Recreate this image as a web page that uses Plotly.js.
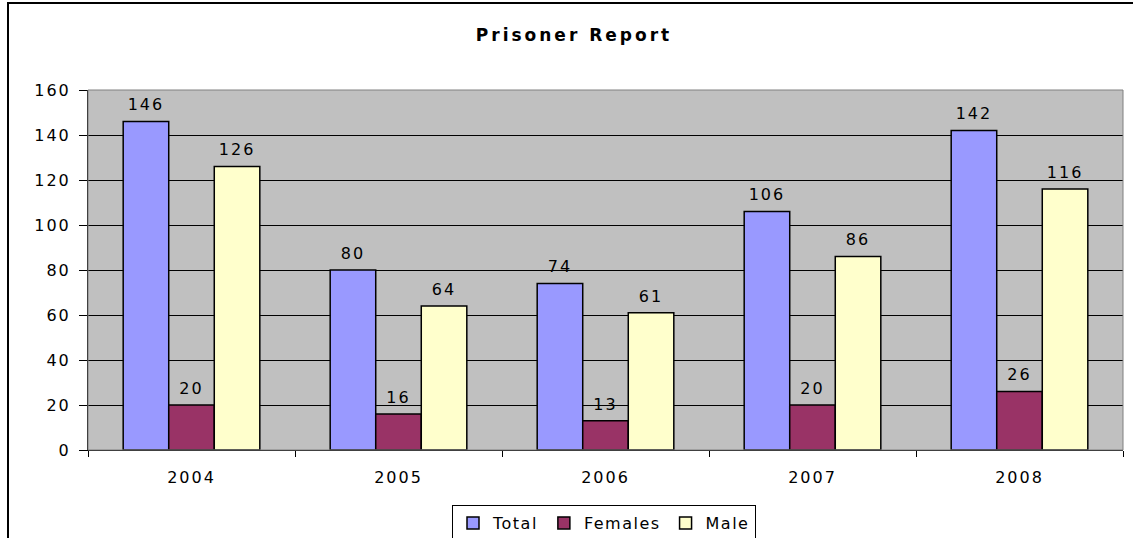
<!DOCTYPE html>
<html>
<head>
<meta charset="utf-8">
<script src="https://cdn.plot.ly/plotly-3.0.1.min.js"></script>
<style>
html,body{margin:0;padding:0;background:#fff;}
#chart{width:1133px;height:538px;}
text{letter-spacing:2px;}
text.legendtext{letter-spacing:1.5px;}
text.gtitle{letter-spacing:3px;}
</style>
</head>
<body>
<div id="chart"></div>
<script>
const years = ["2004", "2005", "2006", "2007", "2008"];
const totalValues = [146, 80, 74, 106, 142];
const femaleValues = [20, 16, 13, 20, 26];
const maleValues = [126, 64, 61, 86, 116];
const seriesNames = ["Total", "Females", "Male"];
const yTicks = [0, 20, 40, 60, 80, 100, 120, 140, 160];

const FONT = "DejaVu Sans, Verdana, sans-serif";
const GAP = 0.34;
function bar(name, vals, color) {
  return {
    type: "bar", name: name, x: years, y: vals,
    marker: {color: color, line: {color: "#000", width: 1.5}},
    hoverinfo: "none"
  };
}
function labels(name, vals) {
  return {
    type: "scatter", mode: "markers+text", name: name + " labels", x: years, y: vals,
    text: vals.map(String), textposition: "top center",
    textfont: {family: FONT, size: 16, color: "#000"},
    marker: {size: 10, opacity: 0}, showlegend: false, cliponaxis: false, hoverinfo: "none"
  };
}
const data = [
  bar(seriesNames[0], totalValues, "#9999FF"),
  bar(seriesNames[1], femaleValues, "#993366"),
  bar(seriesNames[2], maleValues, "#FFFFCC"),
  labels(seriesNames[0], totalValues),
  labels(seriesNames[1], femaleValues),
  labels(seriesNames[2], maleValues)
];
const layout = {
  width: 1133, height: 538,
  margin: {l: 88, r: 10, t: 90, b: 88},
  paper_bgcolor: "#fff", plot_bgcolor: "#C0C0C0",
  font: {family: FONT, size: 16, color: "#000"},
  barmode: "group", bargap: GAP, bargroupgap: 0,
  scattermode: "group", scattergap: GAP,
  title: {text: "<b>Prisoner Report</b>", font: {family: FONT, size: 17, color: "#000"},
          x: 574/1133, xanchor: "center", y: 1 - 35/538, yanchor: "middle"},
  xaxis: {type: "category", showgrid: false, tickson: "boundaries", ticks: "outside", ticklen: 6,
          tickcolor: "#000", showline: true, linecolor: "#000", linewidth: 1, ticklabelstandoff: 13,
          tickfont: {family: FONT, size: 16, color: "#000"}, fixedrange: true, automargin: false},
  yaxis: {range: [0, 160], tickvals: yTicks, ticks: "outside", ticklen: 8, tickcolor: "#000",
          showgrid: true, gridcolor: "#000", gridwidth: 1, zeroline: false, ticklabelstandoff: 5,
          showline: true, linecolor: "#000", linewidth: 1, automargin: false,
          tickfont: {family: FONT, size: 16, color: "#000"}, fixedrange: true},
  showlegend: true,
  legend: {orientation: "h", x: 604/1133, xref: "container", xanchor: "center",
           y: 1 - 505/538, yref: "container", yanchor: "top", bordercolor: "#000", borderwidth: 1, bgcolor: "#fff",
           font: {family: FONT, size: 16, color: "#000"}, itemwidth: 30, tracegroupgap: 0},
  shapes: [
    {type: "rect", xref: "paper", yref: "paper", x0: 0, x1: 1, y0: 0, y1: 1,
     line: {color: "#808080", width: 1}, fillcolor: "rgba(0,0,0,0)", layer: "above"},
    {type: "rect", xref: "paper", yref: "paper", x0: (8-88)/1035, x1: (1170-88)/1035,
     y0: -(580-450)/360, y1: 1 + (90-3)/360, line: {color: "#000", width: 2}, fillcolor: "rgba(0,0,0,0)"}
  ]
};
Plotly.newPlot("chart", data, layout, {displayModeBar: false, staticPlot: true});
</script>
</body>
</html>
